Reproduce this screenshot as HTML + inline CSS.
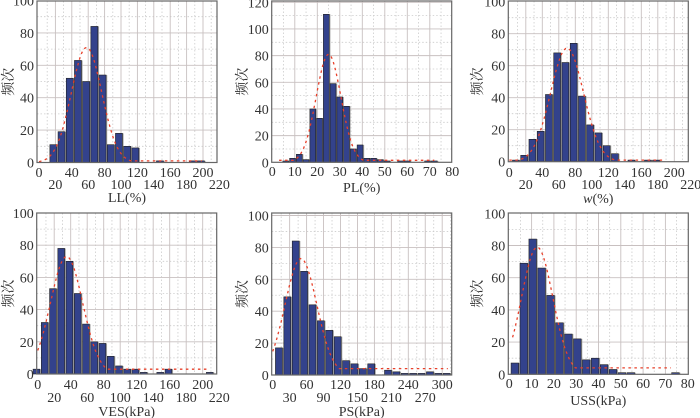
<!DOCTYPE html>
<html><head><meta charset="utf-8"><style>
html,body{margin:0;padding:0;background:#fff;width:700px;height:418px;overflow:hidden}
svg text{font-family:"Liberation Serif","Noto Serif CJK SC",serif;fill:#333}
</style></head><body>
<svg id="s" width="700" height="418" xmlns="http://www.w3.org/2000/svg"></svg>
<script>
var S=document.getElementById('s'),out='';
function P(o){
 var L=o.L,R=o.R,T=o.T,B=o.B,x0=o.x0,xs=o.xs,y0=B;
 var ys=(B-o.y100)/o.ytop;
 function X(v){return x0+v*xs}
 function Y(v){return y0-v*ys}
 var g='';
 for(var v=o.xt/2;X(v)<R;v+=o.xt){g+='<line x1="'+X(v)+'" x2="'+X(v)+'" y1="'+T+'" y2="'+B+'" stroke="#ccc" stroke-width="0.8" stroke-dasharray="1.5,2"/>';}
 for(var v=o.yt/2;Y(v)>T;v+=o.yt){g+='<line x1="'+L+'" x2="'+R+'" y1="'+Y(v)+'" y2="'+Y(v)+'" stroke="#ccc" stroke-width="0.8" stroke-dasharray="1.5,2"/>';}
 for(var v=o.xt;X(v)<R-1;v+=o.xt){g+='<line x1="'+X(v)+'" x2="'+X(v)+'" y1="'+T+'" y2="'+B+'" stroke="#c8c0c0" stroke-width="0.9"/>';}
 for(var v=o.yt;Y(v)>T+1;v+=o.yt){g+='<line x1="'+L+'" x2="'+R+'" y1="'+Y(v)+'" y2="'+Y(v)+'" stroke="#c8c0c0" stroke-width="0.9"/>';}
 var bw=o.bw*xs;
 o.bars.forEach(function(b,i){var c=o.c0+i*o.step,h=b*ys;if(!b)return;
  var x=X(c)-bw/2;
  g+='<rect x="'+(x+1.2)+'" y="'+(Y(b))+'" width="'+bw+'" height="'+h+'" fill="#aaa"/>';
  g+='<rect x="'+x+'" y="'+Y(b)+'" width="'+bw+'" height="'+h+'" fill="#33428c" stroke="#222" stroke-width="0.6"/>';});
 var pts=[];
 for(var v=o.cs;v<=o.ce;v+=(o.ce-o.cs)/150){var f=o.pk*Math.exp(-Math.pow(v-o.mu,2)/(2*o.sd*o.sd));if(v>o.mu&&f<o.fl)f=o.fl;if(v<o.mu&&f<o.fl0)f=o.fl0;pts.push(X(v).toFixed(1)+','+Y(f).toFixed(1));}
 g+='<polyline points="'+pts.join(' ')+'" fill="none" stroke="#e8402a" stroke-width="1.3" stroke-dasharray="2.5,3.5"/>';
 g+='<rect x="'+L+'" y="'+T+'" width="'+(R-L)+'" height="'+(B-T)+'" fill="none" stroke="#666" stroke-width="1.2"/>';
 for(var v=0;v<=o.ytop;v+=o.yt){g+='<text x="'+(L-3)+'" y="'+(Y(v)+5)+'" font-size="14" text-anchor="end">'+v+'</text>';}
 var k=0;
 for(var v=0;v<=o.xmax;v+=o.xl,k++){var yy=o.alt?(k%2?o.r2:o.r1):o.r1;
  g+='<text x="'+X(v)+'" y="'+yy+'" font-size="14" text-anchor="middle">'+v+'</text>';}
 g+='<text x="'+((L+R)/2)+'" y="'+o.xly+'" font-size="14" text-anchor="middle">'+o.xlab+'</text>';
 g+='<text transform="translate('+o.ylx+','+((T+B)/2)+') rotate(-90)" font-size="14" text-anchor="middle">频次</text>';
 out+=g;
}
P({L:37,R:217,T:1,B:162.5,x0:39,xs:0.82,y100:0.5,ytop:100,yt:20,xt:20,xl:20,xmax:220,alt:1,r1:177,r2:189,xly:202,xlab:'LL(%)',ylx:13,
 c0:17.5,step:10,bw:8.5,bars:[11,19,52,63,50,84,54,11,18,10,9,0,0,1,0,0,0,1,1],
 pk:71,mu:58,sd:18.6,cs:0,ce:200,fl:1,fl0:0});
P({L:271.7,R:451.7,T:1,B:162.3,x0:272.3,xs:2.25,y100:2.3,ytop:120,yt:20,xt:10,xl:10,xmax:80,alt:0,r1:176,xly:192,xlab:'PL(%)',ylx:247,
 c0:6,step:3,bw:2.6,bars:[1,3,6,2,40,33,111,59,49,42,10,13,3,3,2,1,0,1,1,0,0,1,1],
 pk:81,mu:25,sd:5.5,cs:3,ce:72,fl:1.5,fl0:1.5});
P({L:508.3,R:688.3,T:1,B:161.7,x0:509.3,xs:0.825,y100:1.7,ytop:100,yt:20,xt:20,xl:20,xmax:220,alt:1,r1:177,r2:189,xly:203,xlab:'<tspan font-style="italic">w</tspan>(%)',ylx:482,
 c0:8,step:10,bw:8.3,bars:[1,4,14,19,42,68,62,74,41,23,18,10,5,0,1,0,1,1],
 pk:71,mu:70,sd:20,cs:0,ce:190,fl:1,fl0:1});
P({L:36.7,R:216.7,T:213,B:374,x0:37.7,xs:0.825,y100:213,ytop:100,yt:20,xt:20,xl:20,xmax:220,alt:1,r1:389,r2:402,xly:416,xlab:'VES(kPa)',ylx:13,
 c0:-1.5,step:10,bw:8.2,bars:[3,32,53,78,70,50,31,20,19,11,5,3,3,1,0,1,3,0,0,0,0,1],
 pk:73,mu:35,sd:19.5,cs:0,ce:210,fl:3,fl0:0});
P({L:271.7,R:451.7,T:213,B:375,x0:272.7,xs:0.565,y100:215.5,ytop:100,yt:20,xt:30,xl:30,xmax:300,alt:1,r1:389,r2:402,xly:416,xlab:'PS(kPa)',ylx:247,
 c0:11,step:14.85,bw:12.3,bars:[17,49,84,65,44,34,28,24,9,7,4,7,0,3,2,1,1,1,2,1,1],
 pk:73,mu:50,sd:28,cs:0,ce:310,fl:4,fl0:0});
P({L:508.3,R:688.3,T:213,B:374.3,x0:509.3,xs:2.23,y100:213.3,ytop:100,yt:20,xt:10,xl:10,xmax:80,alt:0,r1:388,xly:405,xlab:'USS(kPa)',ylx:482,
 c0:2.5,step:4,bw:3.4,bars:[7,69,84,66,49,32,25,22,9,10,6,3,1,1,0,0,0,0,1],
 pk:79,mu:12.5,sd:7,cs:1.5,ce:73,fl:4,fl0:0});
S.innerHTML=out;
</script>
</body></html>
